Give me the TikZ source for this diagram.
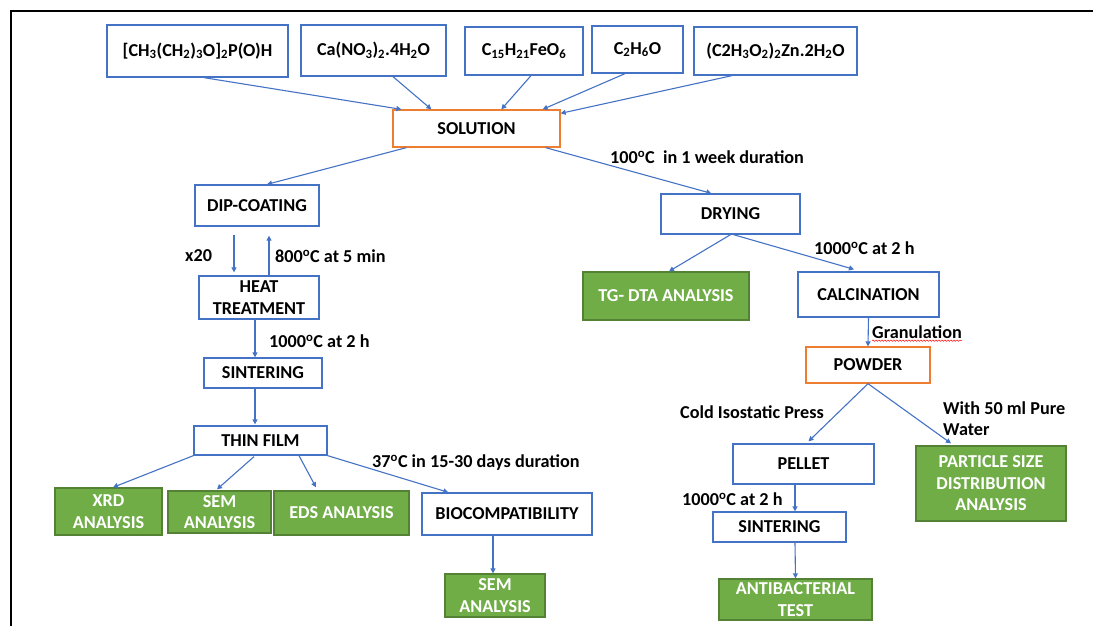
\documentclass[tikz,border=0pt]{standalone}
\usepackage{fontspec}
\setmainfont{Carlito}
\usetikzlibrary{arrows.meta,calc,decorations.pathmorphing}
\definecolor{bblue}{HTML}{4472C4}
\definecolor{oorange}{HTML}{ED7D31}
\definecolor{ggreen}{HTML}{70AD47}
\definecolor{gborder}{HTML}{548235}
\begin{document}
\begin{tikzpicture}[x=1pt,y=-1pt,
  font=\fontsize{18.2}{21.5}\selectfont\bfseries,
  box/.style={draw=bblue,line width=1.3pt,fill=white,inner sep=0pt,align=center,text=black},
  obox/.style={box,draw=oorange},
  gbox/.style={draw=gborder,fill=ggreen,line width=1.3pt,inner sep=0pt,align=center,text=white},
  arr/.style={draw=bblue,line width=1.1pt,-{Triangle[length=5pt,width=5pt]}},
  lbl/.style={anchor=west,inner sep=0pt,text=black,align=left}]
\useasboundingbox (0,0) rectangle (1093,626);
% frame
\coordinate (ftl) at (11,11);
\coordinate (ftr) at (1093,11);
\coordinate (fbl) at (11,626);
\draw[black,line width=2pt] (ftr) -- (ftl) -- (fbl);
% top row
\node[box,minimum width=181,minimum height=52] (b1) at (197.5,51) {[CH\textsubscript{3}(CH\textsubscript{2})\textsubscript{3}O]\textsubscript{2}P(O)H};
\node[box,minimum width=145,minimum height=51] (b2) at (373.5,50.5) {Ca(NO\textsubscript{3})\textsubscript{2}.4H\textsubscript{2}O};
\node[box,minimum width=118,minimum height=48] (b3) at (524,51) {C\textsubscript{15}H\textsubscript{21}FeO\textsubscript{6}};
\node[box,minimum width=91,minimum height=47] (b4) at (637.5,49.5) {C\textsubscript{2}H\textsubscript{6}O};
\node[box,minimum width=163,minimum height=48] (b5) at (775.5,51) {(C2H\textsubscript{3}O\textsubscript{2})\textsubscript{2}Zn.2H\textsubscript{2}O};
\node[obox,minimum width=167,minimum height=37] (sol) at (476.5,128.5) {SOLUTION};
% left branch
\node[box,minimum width=124,minimum height=41] (dip) at (257,205.5) {DIP-COATING};
\node[box,minimum width=120,minimum height=43] (heat) at (259,297.5) {HEAT\\TREATMENT};
\node[box,minimum width=118,minimum height=30] (sintL) at (263,373) {SINTERING};
\node[box,minimum width=133,minimum height=29] (thin) at (260.5,440.5) {THIN FILM};
\node[gbox,minimum width=107,minimum height=47] (xrd) at (108.5,511.5) {XRD\\ANALYSIS};
\node[gbox,minimum width=103,minimum height=42] (sem1) at (219.5,512) {SEM\\ANALYSIS};
\node[gbox,minimum width=135,minimum height=44] (eds) at (341.5,513) {EDS ANALYSIS};
\node[box,minimum width=170,minimum height=42] (bio) at (507,514) {BIOCOMPATIBILITY};
\node[gbox,minimum width=100,minimum height=43] (sem2) at (495,595.5) {SEM\\ANALYSIS};
% right branch
\node[box,minimum width=139,minimum height=40] (dry) at (730.5,214) {DRYING};
\node[gbox,minimum width=166,minimum height=48] (tg) at (666,296) {TG- DTA ANALYSIS};
\node[box,minimum width=141,minimum height=45] (calc) at (868.5,294.5) {CALCINATION};
\node[obox,minimum width=124,minimum height=36] (pow) at (868,365) {POWDER};
\node[box,minimum width=141,minimum height=40] (pel) at (803.5,464) {PELLET};
\node[box,minimum width=133,minimum height=30] (sintR) at (779.5,527) {SINTERING};
\node[gbox,minimum width=153,minimum height=41] (anti) at (795.5,599.5) {ANTIBACTERIAL\\TEST};
\node[gbox,minimum width=150,minimum height=75] (psd) at (991,483.5) {PARTICLE SIZE\\DISTRIBUTION\\ANALYSIS};
% arrows to solution
\draw[arr] ($(b1.south)+(6.5,0)$) -- ($(sol.north west)+(9,0)$);
\draw[arr] ($(b2.south)+(19.5,0)$) -- ($(sol.north west)+(39,0)$);
\draw[arr] ($(b3.south)+(7,0)$) -- ($(sol.north west)+(109,0)$);
\draw[arr] ($(b4.south)+(-12.5,0)$) -- ($(sol.north east)+(-18,0)$);
\draw[arr] ($(b5.south)+(-43.5,0)$) -- ($(sol.north east)+(0,4)$);
\draw[arr] ($(sol.south west)+(14,0)$) -- ($(dip.north)+(10,0)$);
\draw[arr] ($(sol.south east)+(-15,0)$) -- ($(dry.north west)+(51,0)$);
% left branch arrows
\draw[arr] ($(dip.south)+(-23,8)$) -- ($(heat.north)+(-25,-3)$);
\draw[arr] ($(heat.north)+(10,0)$) -- ($(dip.south)+(12,9)$);
\draw[arr] ($(heat.south)+(-4,0)$) -- ($(sintL.north)+(-8,0)$);
\draw[arr] ($(sintL.south)+(-8,0)$) -- ($(thin.north)+(-5.5,-1)$);
\draw[arr] (thin.south west) -- ($(xrd.north)+(4.5,0)$);
\draw[arr] ($(thin.south)+(-6.5,1)$) -- ($(sem1.north)+(-2.5,-1)$);
\draw[arr] ($(thin.south)+(38.5,0)$) -- ($(eds.north)+(-25.5,-3)$);
\draw[arr] (thin.south east) -- ($(bio.north west)+(27,0)$);
\draw[arr] ($(bio.south)+(-14,0)$) -- ($(sem2.north)+(-2,0)$);
% right branch arrows
\draw[arr] (dry.south) -- ($(tg.north)+(3,0)$);
\draw[arr] ($(dry.south)+(3,0)$) -- ($(calc.north)+(-14.5,-2)$);
\draw[arr] (calc.south) -- (pow.north);
\draw[arr] (pow.south) -- ($(pel.north)+(5,-2)$);
\draw[arr] (pow.south) -- ($(psd.north)+(-40,-2)$);
\draw[arr] ($(pel.south)+(-8.5,0)$) -- ($(sintR.north)+(15.5,0)$);
\draw[arr] ($(sintR.south)+(15.5,0)$) -- (anti.north);
% labels
\node[lbl] (l1) at (610,157) {100\textsuperscript{o}C\ \ in 1 week duration};
\node[lbl] (l2) at (185,256) {x20};
\node[lbl] (l3) at (275,256) {800\textsuperscript{o}C at 5 min};
\node[lbl] (l4) at (269,341) {1000\textsuperscript{o}C at 2 h};
\node[lbl] (l5) at (372,463) {37\textsuperscript{o}C in 15-30 days duration};
\node[lbl] (l6) at (814,248) {1000\textsuperscript{o}C at 2 h};
\node[lbl] (l7) at (872,332) {Granulation};
\node[lbl] (l8) at (680,412) {Cold Isostatic Press};
\node[lbl] (l9) at (943,418.5) {With 50 ml Pure\\Water};
\node[lbl] (l10) at (682,499) {1000\textsuperscript{o}C at 2 h};
\draw[red,line width=0.5pt,decorate,decoration={snake,amplitude=0.7pt,segment length=3pt}] ($(l7.south west)+(0,2)$) -- ($(l7.south east)+(0,2)$);
\end{tikzpicture}
\end{document}
